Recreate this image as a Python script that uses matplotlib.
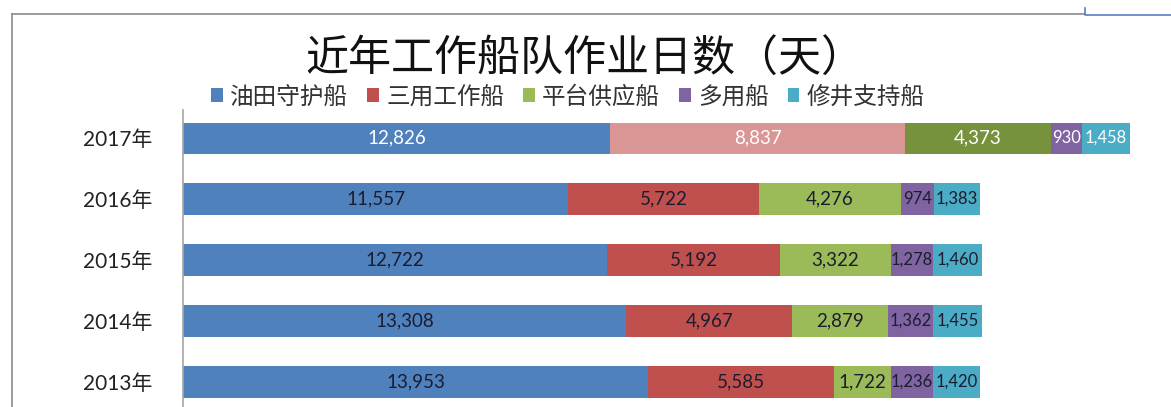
import matplotlib
matplotlib.use("Agg")
import matplotlib.pyplot as plt
from matplotlib.patches import Patch
from matplotlib.lines import Line2D

# data (2013 at the bottom, 2017 at the top)
years = ["2013年", "2014年", "2015年", "2016年", "2017年"]
series = ["油田守护船", "三用工作船", "平台供应船", "多用船", "修井支持船"]
oilfield = [13953, 13308, 12722, 11557, 12826]
multi3 = [5585, 4967, 5192, 5722, 8837]
platform = [1722, 2879, 3322, 4276, 4373]
multipurpose = [1236, 1362, 1278, 974, 930]
workover = [1420, 1455, 1460, 1383, 1458]
values = [oilfield, multi3, platform, multipurpose, workover]

colors = ["#4f81bd", "#c0504d", "#9bbb59", "#8064a2", "#4bacc6"]
# the 2017 row is highlighted with other shades
colors_2017 = ["#4f81bd", "#d99694", "#76923c", "#8064a2", "#4bacc6"]

CJK = ["Noto Sans CJK SC", "DejaVu Sans"]
NUM = ["Lato", "Noto Sans CJK SC", "DejaVu Sans"]

fig = plt.figure(figsize=(11.71, 4.07), dpi=100)
ax = fig.add_axes([183 / 1171, 0, 1 - 183 / 1171, (407 - 110) / 407])

y = list(range(len(years)))
left = [0] * len(years)
for si, vals in enumerate(values):
    cols = [colors_2017[si] if yr == "2017年" else colors[si] for yr in years]
    bars = ax.barh(y, vals, left=left, height=0.51, color=cols, linewidth=0)
    for yi, (b, v) in enumerate(zip(bars, vals)):
        tc = "white" if years[yi] == "2017年" else "#1c1c30"
        # small segments: label a little narrower so neighbours don't touch
        fs = 12 if v < 1500 else 13.5
        ax.text(b.get_x() + b.get_width() / 2, b.get_y() + b.get_height() / 2,
                f"{v:,}", ha="center", va="center", fontsize=fs,
                color=tc, family=NUM)
    left = [l + v for l, v in zip(left, vals)]

ax.set_xlim(0, 29650)
ax.set_ylim(-0.41, 4.46)
ax.set_yticks(y)
ax.set_yticklabels(years, family=NUM, fontsize=15, color="#222222")
ax.tick_params(axis="y", length=0, pad=22)
ax.set_xticks([])
for s in ["top", "right", "bottom"]:
    ax.spines[s].set_visible(False)
ax.spines["left"].set_color("#a6a6a6")
ax.spines["left"].set_linewidth(1.2)

fig.text(0.4996, 1 - 60 / 407, "近年工作船队作业日数（天）", ha="center", va="center",
         fontsize=31, family=CJK, color="#111111")

handles = [Patch(facecolor=c, edgecolor="none") for c in colors]
fig.legend(handles, series, loc="center", bbox_to_anchor=(0.485, 1 - 97 / 407),
           ncol=5, frameon=False, prop={"family": CJK, "size": 17},
           labelcolor="#333333", handlelength=0.5, handleheight=0.5,
           handletextpad=0.3, columnspacing=0.8, borderpad=0)

# outer frame lines of the screenshot
fig.add_artist(Line2D([12 / 1171, 12 / 1171], [0, 1 - 14 / 407], color="#8c8c8c", lw=1.2))
fig.add_artist(Line2D([12 / 1171, 1085 / 1171], [1 - 14 / 407, 1 - 14 / 407], color="#8c8c8c", lw=1.2))
fig.add_artist(Line2D([1085 / 1171, 1085 / 1171, 1], [1 - 8 / 407, 1 - 15 / 407, 1 - 15 / 407],
                      color="#5b7fc0", lw=1.2))

fig.savefig("out.png", dpi=100)
